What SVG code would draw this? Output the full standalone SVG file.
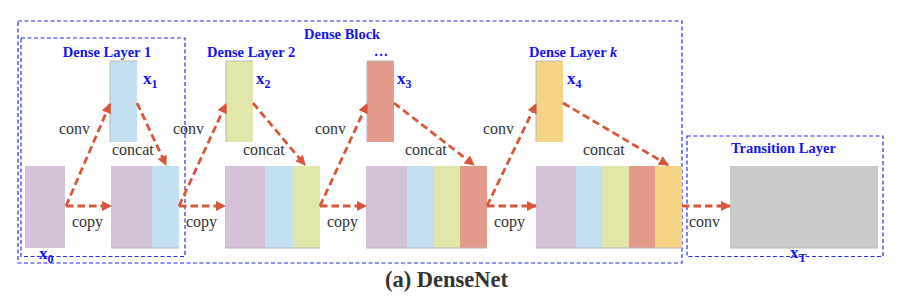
<svg xmlns="http://www.w3.org/2000/svg" width="898" height="301" viewBox="0 0 898 301" font-family="'Liberation Serif', 'Times New Roman', serif">
<defs>
<style>
.box{fill:none;stroke:#2b2bea;stroke-width:1.2;stroke-dasharray:4 2.5}
.hdr{font-weight:bold;font-size:14.5px;fill:#1414f0}
.lbl{font-size:16px;fill:#333}
.xl{font-weight:bold;font-size:17px;fill:#1414f0}
.sub{font-size:12px}
.arr{fill:none;stroke:#d8573a;stroke-width:2.8;stroke-dasharray:7.5 4;marker-end:url(#ah)}
.p{fill:#d4c1d8}.b{fill:#c3e1f2}.y{fill:#e2e6a8}.s{fill:#e29b8b}.o{fill:#f5d485}.g{fill:#cbcbcb}
.edge{fill:none;stroke:#b9b9b9;stroke-width:1}
</style>
<marker id="ah" viewBox="0 0 10 10" refX="9" refY="5" markerWidth="3.6" markerHeight="3.6" orient="auto" markerUnits="strokeWidth">
<path d="M0,0 L10,5 L0,10 z" fill="#d8573a"/>
</marker>
</defs>
<rect width="898" height="301" fill="#fff"/>

<g id="dense-block">
<rect class="box" x="18" y="21" width="664" height="242"/>
<text class="hdr" x="304" y="39" font-size="15" font-family="'Liberation Serif', serif">Dense Block</text>
</g>
<g id="dense-layer-1">
<rect class="box" x="21" y="38" width="164" height="218.5"/>
<text class="hdr" x="107" y="57" text-anchor="middle" font-family="'Liberation Serif', serif">Dense Layer 1</text>
</g>
<g id="transition-layer">
<rect class="box" x="687" y="136" width="196" height="120.5"/>
<text class="hdr" x="731" y="153" font-family="'Liberation Serif', serif">Transition Layer</text>
</g>

<g id="x0">
<rect class="p" x="25" y="166" width="40" height="82"/>
<text class="xl" x="39" y="259" font-family="'Liberation Serif', serif">x<tspan class="sub" dy="4">0</tspan></text>
</g>
<g id="x1">
<rect class="b" x="110" y="61" width="27" height="81"/>
<path class="edge" d="M110,142 V61 H137"/>
<text class="xl" x="143" y="84" font-family="'Liberation Serif', serif">x<tspan class="sub" dy="4">1</tspan></text>
</g>
<g id="concat1">
<rect class="p" x="111" y="166" width="41" height="82"/>
<rect class="b" x="152" y="166" width="27" height="82"/>
<path class="edge" d="M111,248 H179"/>
</g>
<g id="header-2">
<text class="hdr" x="207" y="57" font-family="'Liberation Serif', serif">Dense Layer 2</text>
</g>
<g id="x2">
<rect class="y" x="226" y="61" width="27" height="81"/>
<path class="edge" d="M226,142 V61 H253"/>
<text class="xl" x="256" y="84" font-family="'Liberation Serif', serif">x<tspan class="sub" dy="4">2</tspan></text>
</g>
<g id="concat2">
<rect class="p" x="225" y="166" width="40" height="82"/>
<rect class="b" x="265" y="166" width="28" height="82"/>
<rect class="y" x="293" y="166" width="27" height="82"/>
<path class="edge" d="M225,248 H320"/>
</g>
<g id="header-dots">
<text class="hdr" x="381" y="56" text-anchor="middle" font-family="'Liberation Serif', serif">…</text>
</g>
<g id="x3">
<rect class="s" x="367" y="61" width="27" height="81"/>
<path class="edge" d="M367,142 V61 H394"/>
<text class="xl" x="397" y="84" font-family="'Liberation Serif', serif">x<tspan class="sub" dy="4">3</tspan></text>
</g>
<g id="concat3">
<rect class="p" x="366" y="166" width="41" height="82"/>
<rect class="b" x="407" y="166" width="27" height="82"/>
<rect class="y" x="434" y="166" width="26" height="82"/>
<rect class="s" x="460" y="166" width="27" height="82"/>
<path class="edge" d="M366,248 H487"/>
</g>
<g id="header-k">
<text class="hdr" x="529" y="57" font-family="'Liberation Serif', serif">Dense Layer <tspan font-style="italic">k</tspan></text>
</g>
<g id="x4">
<rect class="o" x="536" y="61" width="27" height="81"/>
<path class="edge" d="M536,142 V61 H563"/>
<text class="xl" x="567" y="84" font-family="'Liberation Serif', serif">x<tspan class="sub" dy="4">4</tspan></text>
</g>
<g id="concat4">
<rect class="p" x="536" y="166" width="40" height="82"/>
<rect class="b" x="576" y="166" width="26" height="82"/>
<rect class="y" x="602" y="166" width="27" height="82"/>
<rect class="s" x="629" y="166" width="26" height="82"/>
<rect class="o" x="655" y="166" width="27" height="82"/>
<path class="edge" d="M536,248 H682"/>
</g>
<g id="xT">
<rect class="g" x="730" y="166" width="148" height="82"/>
<path class="edge" d="M730,248 H878"/>
<text class="xl" x="790" y="258" font-family="'Liberation Serif', serif">x<tspan class="sub" dy="4">T</tspan></text>
</g>

<g id="connectors">
<line class="arr" x1="66" y1="206" x2="111" y2="206"/>
<line class="arr" x1="66" y1="206" x2="110" y2="104"/>
<line class="arr" x1="137" y1="103" x2="166" y2="165"/>
<line class="arr" x1="179" y1="206" x2="225" y2="206"/>
<line class="arr" x1="179" y1="206" x2="226" y2="104"/>
<line class="arr" x1="253" y1="103" x2="305" y2="165"/>
<line class="arr" x1="320" y1="206" x2="366" y2="206"/>
<line class="arr" x1="320" y1="206" x2="367" y2="104"/>
<line class="arr" x1="394" y1="103" x2="474" y2="165"/>
<line class="arr" x1="487" y1="206" x2="536" y2="206"/>
<line class="arr" x1="487" y1="206" x2="536" y2="104"/>
<line class="arr" x1="563" y1="103" x2="668" y2="165"/>
<line class="arr" x1="682" y1="206" x2="730" y2="206"/>
<g font-family="'Liberation Serif', serif">
<text class="lbl" x="59" y="134">conv</text>
<text class="lbl" x="173" y="134">conv</text>
<text class="lbl" x="315" y="134">conv</text>
<text class="lbl" x="483" y="134">conv</text>
<text class="lbl" x="112" y="155">concat</text>
<text class="lbl" x="243" y="155">concat</text>
<text class="lbl" x="405" y="155">concat</text>
<text class="lbl" x="583" y="155">concat</text>
<text class="lbl" x="72" y="227">copy</text>
<text class="lbl" x="186" y="227">copy</text>
<text class="lbl" x="327" y="227">copy</text>
<text class="lbl" x="494" y="227">copy</text>
<text class="lbl" x="689" y="227">conv</text>
</g>
</g>

<text x="446.5" y="287" text-anchor="middle" font-family="'Liberation Serif', serif" font-weight="bold" font-size="22.5" fill="#333">(a) DenseNet</text>
</svg>
